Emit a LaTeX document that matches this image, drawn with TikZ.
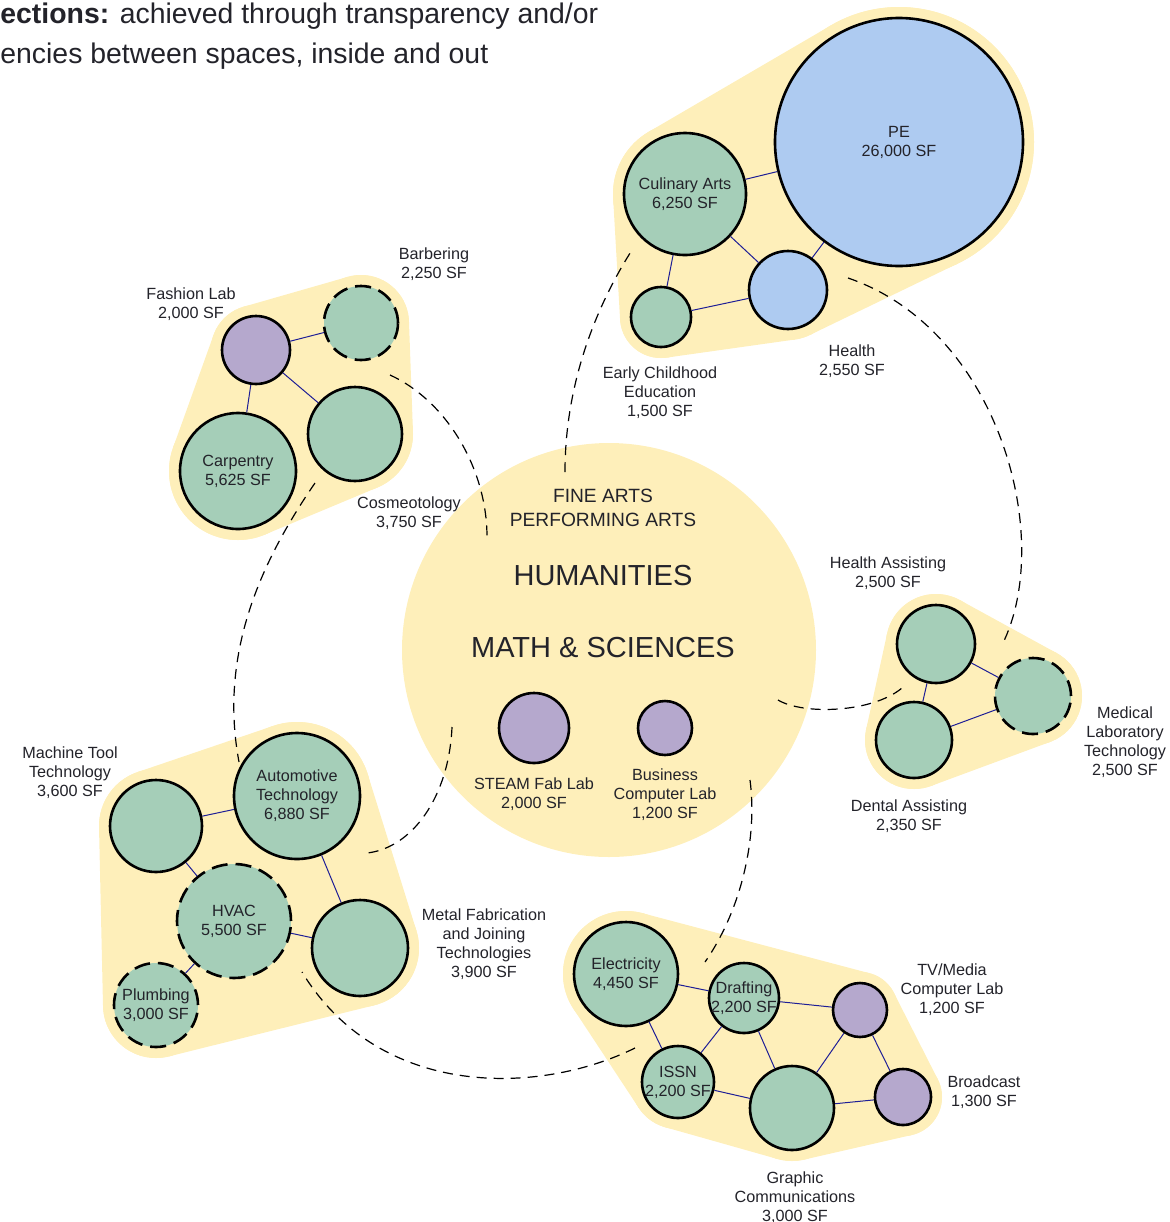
\documentclass[tikz,border=0pt]{standalone}
\usepackage{fontspec}
\setmainfont{Liberation Sans}
\usetikzlibrary{calc,backgrounds,positioning}
\definecolor{zoneYellow}{RGB}{254,239,186}
\definecolor{rmGreen}   {RGB}{165,206,184}
\definecolor{rmPurple}  {RGB}{181,168,205}
\definecolor{rmBlue}    {RGB}{174,203,241}
\definecolor{linkNavy}  {RGB}{ 30, 30,150}
\definecolor{inkGrey}   {RGB}{ 35, 35, 42}
\newcommand\lblfont{\fontsize{8.1}{9.5}\selectfont}
\newcommand\hdfont{\fontsize{14.2}{20}\selectfont}
\newcommand\artsfont{\fontsize{9.6}{12}\selectfont}
\newcommand\bigfont{\fontsize{14.5}{17}\selectfont}
% yellow band = hull of two circles (node A, radius A in pt, node B, radius B in pt)
\newcommand\hullband[4]{%
  \fill[blob] let \p1=(#1.center), \p2=(#3.center),
    \n1={atan2((\y2)-(\y1),(\x2)-(\x1))},
    \n2={acos((#2-#4)/veclen((\x2)-(\x1),(\y2)-(\y1)))} in
    ({(\x1)+#2*cos(\n1+\n2)},{(\y1)+#2*sin(\n1+\n2)})
    -- ({(\x2)+#4*cos(\n1+\n2)},{(\y2)+#4*sin(\n1+\n2)})
    -- ({(\x2)+#4*cos(\n1-\n2)},{(\y2)+#4*sin(\n1-\n2)})
    -- ({(\x1)+#2*cos(\n1-\n2)},{(\y1)+#2*sin(\n1-\n2)}) -- cycle;
  \fill[blob] (#1.center) circle (#2pt) (#3.center) circle (#4pt);}

\begin{document}
\begin{tikzpicture}[x=0.5pt,y=-0.5pt,
  every node/.style={text=inkGrey},
  room/.style={circle,draw=black,line width=1.3pt,inner sep=0pt,align=center,font=\lblfont},
  greenrm/.style={room,fill=rmGreen},
  purplerm/.style={room,fill=rmPurple},
  bluerm/.style={room,fill=rmBlue},
  planned/.style={dash pattern=on 8pt off 4pt},
  lbl/.style={align=center,font=\lblfont,inner sep=0pt},
  tag/.style={lbl,yshift=-1pt},
  link/.style={draw=linkNavy,line width=0.5pt},
  adj/.style={draw=black,line width=0.6pt,dash pattern=on 5pt off 3.5pt},
  blob/.style={fill=zoneYellow}
]
\useasboundingbox (0,0) rectangle (1170,1222);
% heading (cut at the left edge)
\node[anchor=base west,inner sep=0pt,font=\hdfont] (hdA) at (0,23) {\textbf{ections:} achieved through transparency and/or};
\node[anchor=base west,inner sep=0pt,font=\hdfont] (hdB) at (0,63) {encies between spaces, inside and out};

% top-left group
\node[purplerm,minimum size=34pt] (fash) at (256,350) {};
\node[greenrm,planned,minimum size=37pt] (barb) at (361,323) {};
\node[greenrm,minimum size=47pt] (cosm) at (355,434) {};
\node[greenrm,minimum size=58pt] (carp) at (238,471) {Carpentry\\5,625 SF};
\node[tag] (fashL) at (191,302.5) {Fashion Lab\\2,000 SF};
\node[tag] (barbL) at (434,262.5) {Barbering\\2,250 SF};
\node[tag] (cosmL) at (409,511.5) {Cosmeotology\\3,750 SF};
\draw[link] (fash) -- (barb);
\draw[link] (fash) -- (carp);
\draw[link] (fash) -- (cosm);

% top-right group
\node[bluerm,minimum size=124pt] (pe) at (899,142) {PE\\26,000 SF};
\node[greenrm,minimum size=61pt] (cul) at (685,194) {Culinary Arts\\6,250 SF};
\node[greenrm,minimum size=30pt] (ece) at (661,317) {};
\node[bluerm,minimum size=39pt] (hlth) at (788,290) {};
\node[tag] (eceL) at (660,391) {Early Childhood\\Education\\1,500 SF};
\node[tag] (hlthL) at (852,359.5) {Health\\2,550 SF};
\draw[link] (cul) -- (pe);
\draw[link] (cul) -- (hlth);
\draw[link] (cul) -- (ece);
\draw[link] (ece) -- (hlth);
\draw[link] (hlth) -- (pe);

% right group
\node[greenrm,minimum size=39pt] (hast) at (936,644) {};
\node[greenrm,planned,minimum size=38pt] (mlt) at (1033,696) {};
\node[greenrm,minimum size=38pt] (dent) at (914,740) {};
\node[tag] (hastL) at (888,571.5) {Health Assisting\\2,500 SF};
\node[tag] (mltL) at (1125,740) {Medical\\Laboratory\\Technology\\2,500 SF};
\node[tag] (dentL) at (909,814.5) {Dental Assisting\\2,350 SF};
\draw[link] (hast) -- (mlt);
\draw[link] (hast) -- (dent);
\draw[link] (dent) -- (mlt);

% bottom-left group
\node[greenrm,minimum size=46pt] (mach) at (156,826) {};
\node[greenrm,minimum size=63pt] (autom) at (297,796) {Automotive\\Technology\\6,880 SF};
\node[greenrm,planned,minimum size=57pt] (hvac) at (234,921) {HVAC\\5,500 SF};
\node[greenrm,minimum size=48pt] (metal) at (360,948) {};
\node[greenrm,planned,minimum size=42pt] (plmb) at (156,1005) {Plumbing\\3,000 SF};
\node[tag] (machL) at (70,771) {Machine Tool\\Technology\\3,600 SF};
\node[tag] (metalL) at (484,942) {Metal Fabrication\\and Joining\\Technologies\\3,900 SF};
\draw[link] (mach) -- (autom);
\draw[link] (mach) -- (hvac);
\draw[link] (autom) -- (metal);
\draw[link] (hvac) -- (metal);
\draw[link] (hvac) -- (plmb);

% bottom group
\node[greenrm,minimum size=52pt] (elec) at (626,974) {Electricity\\4,450 SF};
\node[greenrm,minimum size=35pt,label={[lbl]center:{Drafting\\2,200 SF}}] (drft) at (744,998) {};
\node[greenrm,minimum size=36pt,label={[lbl]center:{ISSN\\2,200 SF}}] (issn) at (678,1082) {};
\node[greenrm,minimum size=42pt] (grph) at (792,1108) {};
\node[purplerm,minimum size=27pt] (tv) at (860,1010) {};
\node[purplerm,minimum size=28pt] (brdc) at (903,1097) {};
\node[tag] (tvL) at (952,988) {TV/Media\\Computer Lab\\1,200 SF};
\node[tag] (brdcL) at (984,1090) {Broadcast\\1,300 SF};
\node[tag] (grphL) at (795,1196) {Graphic\\Communications\\3,000 SF};
\draw[link] (elec) -- (drft);
\draw[link] (elec) -- (issn);
\draw[link] (drft) -- (issn);
\draw[link] (drft) -- (tv);
\draw[link] (drft) -- (grph);
\draw[link] (issn) -- (grph);
\draw[link] (grph) -- (tv);
\draw[link] (grph) -- (brdc);
\draw[link] (tv) -- (brdc);

% core
\node[lbl,font=\artsfont] (arts) at (603,507.5) {FINE ARTS\\PERFORMING ARTS};
\node[inner sep=0pt,font=\bigfont] (hum) at (603,576) {HUMANITIES};
\node[inner sep=0pt,font=\bigfont] (math) at (603,648) {MATH \& SCIENCES};
\node[purplerm,minimum size=35pt] (steam) at (534,728) {};
\node[purplerm,minimum size=27pt] (busi) at (665,728) {};
\node[tag] (steamL) at (534,792.5) {STEAM Fab Lab\\2,000 SF};
\node[tag] (busiL) at (665,792.5) {Business\\Computer Lab\\1,200 SF};

% adjacencies (dashed)
\coordinate (d1a) at (390,375);  \coordinate (d1b) at (487,537);
\coordinate (d2a) at (315,483);  \coordinate (d2b) at (239,762);
\coordinate (d3a) at (452,727);  \coordinate (d3b) at (367,853);
\coordinate (d4a) at (565,472);  \coordinate (d4b) at (632,250);
\coordinate (d5a) at (848,278);  \coordinate (d5b) at (1002,645);
\coordinate (d6a) at (778,700);  \coordinate (d6b) at (902,688);
\coordinate (d7a) at (750,780);  \coordinate (d7b) at (705,962);
\coordinate (d8a) at (635,1048); \coordinate (d8b) at (302,972);
\draw[adj] (d1a) .. controls +(55,25) and +(0,-70) .. (d1b);
\draw[adj] (d2a) .. controls +(-60,87) and +(-19,-102) .. (d2b);
\draw[adj] (d3a) .. controls +(-3,70) and +(45,-5) .. (d3b);
\draw[adj] (d4a) .. controls +(0,-90) and +(-35,55) .. (d4b);
\draw[adj] (d5a) .. controls +(152,52) and +(53,-105) .. (d5b);
\draw[adj] (d6a) .. controls +(25,15) and +(-30,25) .. (d6b);
\draw[adj] (d7a) .. controls +(8,60) and +(35,-50) .. (d7b);
\draw[adj] (d8a) .. controls +(-95,47) and +(78,128) .. (d8b);

% yellow zones
\begin{pgfonlayer}{background}
\node[circle,fill=zoneYellow,inner sep=0pt,minimum size=207pt] (core) at (609,650) {};
\fill[blob] (fash.center) -- (barb.center) -- (cosm.center) -- (carp.center) -- cycle;
\foreach \a/\ra/\b/\rb in {fash/22.5/barb/24, barb/24/cosm/29, cosm/29/carp/34.5, carp/34.5/fash/22.5}
  {\hullband{\a}{\ra}{\b}{\rb}}
\fill[blob] (cul.center) -- (pe.center) -- (hlth.center) -- (ece.center) -- cycle;
\foreach \a/\ra/\b/\rb in {cul/36/pe/67.5, pe/67.5/hlth/25, hlth/25/ece/20.5, ece/20.5/cul/36}
  {\hullband{\a}{\ra}{\b}{\rb}}
\fill[blob] (hast.center) -- (mlt.center) -- (dent.center) -- cycle;
\foreach \a/\ra/\b/\rb in {hast/25/mlt/24.5, mlt/24.5/dent/24.5, dent/24.5/hast/25}
  {\hullband{\a}{\ra}{\b}{\rb}}
\fill[blob] (mach.center) -- (autom.center) -- (metal.center) -- (plmb.center) -- cycle;
\foreach \a/\ra/\b/\rb in {mach/28.5/autom/37, autom/37/metal/29.5, metal/29.5/plmb/26.5, plmb/26.5/mach/28.5}
  {\hullband{\a}{\ra}{\b}{\rb}}
\fill[blob] (elec.center) -- (tv.center) -- (brdc.center) -- (grph.center) -- (issn.center) -- cycle;
\foreach \a/\ra/\b/\rb in {elec/31.5/tv/19, tv/19/brdc/19.5, brdc/19.5/grph/26.5, grph/26.5/issn/23.5, issn/23.5/elec/31.5}
  {\hullband{\a}{\ra}{\b}{\rb}}
\end{pgfonlayer}
\end{tikzpicture}
\end{document}
